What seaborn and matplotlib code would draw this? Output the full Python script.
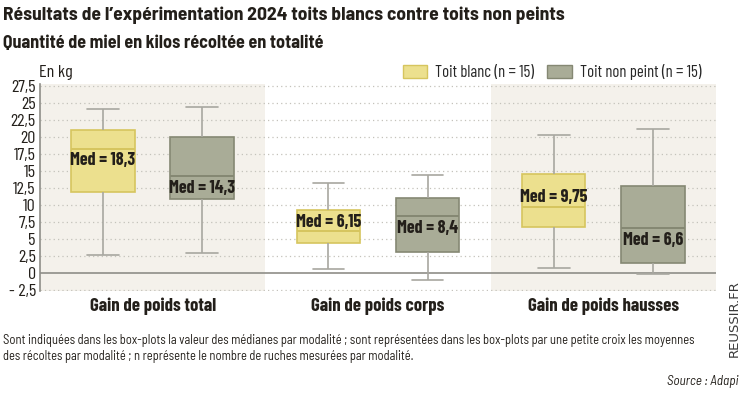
import numpy as np
import pandas as pd
import seaborn as sns
import matplotlib.pyplot as plt
from matplotlib.patches import Patch

# box stats: lower whisker, Q1, median, Q3, upper whisker
groups = ["Gain de poids total", "Gain de poids corps", "Gain de poids hausses"]
series = ["Toit blanc (n = 15)", "Toit non peint (n = 15)"]

blanc_total = [2.65, 11.85, 18.3, 21.1, 24.1]
blanc_corps = [0.55, 4.35, 6.15, 9.3, 13.2]
blanc_hausses = [0.8, 6.7, 9.75, 14.5, 20.3]

nonpeint_total = [3.0, 10.9, 14.3, 20.0, 24.5]
nonpeint_corps = [-1.0, 3.1, 8.4, 11.1, 14.4]
nonpeint_hausses = [-0.1, 1.4, 6.6, 12.8, 21.2]

med_labels_blanc = ["18,3", "6,15", "9,75"]
med_labels_nonpeint = ["14,3", "8,4", "6,6"]
# label sits above (+1) or below (-1) the median line
label_side_blanc = [-1, 1, 1]
label_side_nonpeint = [-1, -1, -1]

yticks = np.arange(-2.5, 27.6, 2.5)

yellow, yellow_edge = "#ece08e", "#d6c55e"
grey, grey_edge = "#a9ac97", "#858873"
whisk = "#a8a7a0"
ink = "#231f1a"

rows = []
for g, b, n in zip(groups, [blanc_total, blanc_corps, blanc_hausses],
                   [nonpeint_total, nonpeint_corps, nonpeint_hausses]):
    for v in b:
        rows.append({"groupe": g, "toit": series[0], "kg": v})
    for v in n:
        rows.append({"groupe": g, "toit": series[1], "kg": v})
df = pd.DataFrame(rows)

sns.set_style("white")
plt.rcParams["font.family"] = ["Barlow Condensed", "DejaVu Sans"]

fig = plt.figure(figsize=(7.47, 3.93), dpi=100)
ax = fig.add_axes([0.0535, 0.2595, 0.905, 0.5265])

# shaded backgrounds for first and last group
ax.axvspan(-0.5, 0.5, color="#f4f1eb", zorder=0, lw=0)
ax.axvspan(1.5, 2.5, color="#f4f1eb", zorder=0, lw=0)
for t in yticks:
    if t != 0:
        ax.axhline(t, color="#c4c2bb", lw=0.9, ls=(0, (1, 2.5)), zorder=0.5)
ax.axhline(0, color="#8f8e88", lw=1.2, zorder=0.6)

sns.boxplot(data=df, x="groupe", y="kg", hue="toit", order=groups, hue_order=series,
            palette=[yellow, grey], saturation=1, whis=np.inf, width=0.88, gap=0.36,
            linewidth=1.2, linecolor=whisk, ax=ax, legend=False,
            medianprops={"lw": 1.4}, capprops={"lw": 1.2}, zorder=2)

# recolour box edges and medians per series
for cont, edge in zip(ax.containers, [yellow_edge, grey_edge]):
    for b in cont.boxes:
        b.set_edgecolor(edge)
    for m in cont.medians:
        m.set_color(edge)

offset = 0.22
stats_b = [blanc_total, blanc_corps, blanc_hausses]
stats_n = [nonpeint_total, nonpeint_corps, nonpeint_hausses]
for i in range(3):
    for xs, med, lab, side in [
        (i - offset, stats_b[i][2], med_labels_blanc[i], label_side_blanc[i]),
        (i + offset, stats_n[i][2], med_labels_nonpeint[i], label_side_nonpeint[i]),
    ]:
        ax.text(xs, med + (1.3 if side > 0 else -1.8), f"Med = {lab}",
                ha="center", va="center", fontsize=13, fontweight="bold",
                color=ink, zorder=5)

ax.set_xlim(-0.5, 2.5)
ax.set_ylim(-2.65, 27.8)
ax.set_yticks(yticks)
ax.set_yticklabels([("- " + f"{abs(t):g}" if t < 0 else f"{t:g}").replace(".", ",") for t in yticks],
                   fontsize=13, color=ink)
ax.tick_params(axis="y", length=0, pad=3)
ax.tick_params(axis="x", length=0, pad=5)
ax.set_xticks(range(3))
ax.set_xticklabels(groups, fontsize=13.5, fontweight="bold", color=ink)
ax.set_xlabel("")
ax.set_ylabel("")
for s in ["top", "right", "bottom"]:
    ax.spines[s].set_visible(False)
ax.spines["left"].set_color("#8f8e88")
ax.spines["left"].set_linewidth(1.2)

# legend
handles = [Patch(facecolor=yellow, edgecolor=yellow_edge), Patch(facecolor=grey, edgecolor=grey_edge)]
fig.legend(handles, series, loc="center right", bbox_to_anchor=(0.939, 0.816), ncol=2,
           frameon=False, fontsize=12, handlelength=1.45, handleheight=0.85,
           columnspacing=0.8, handletextpad=0.5, borderpad=0, borderaxespad=0)

fig.text(0.052, 0.816, "En kg", fontsize=13, color=ink, va="center")
fig.text(0.004, 0.962, "Résultats de l’expérimentation 2024 toits blancs contre toits non peints",
         fontsize=14, fontweight="bold", color=ink, va="center", family="Barlow Semi Condensed")
fig.text(0.004, 0.89, "Quantité de miel en kilos récoltée en totalité",
         fontsize=13, fontweight="bold", color=ink, va="center", family="Barlow Semi Condensed")
fig.text(0.004, 0.113,
         "Sont indiquées dans les box-plots la valeur des médianes par modalité ; sont représentées dans les box-plots par une petite croix les moyennes\n"
         "des récoltes par modalité ; n représente le nombre de ruches mesurées par modalité.",
         fontsize=9, color=ink, va="center", linespacing=1.25, family="Barlow Semi Condensed")
fig.text(0.988, 0.028, "Source : Adapi", fontsize=9.5, style="italic", color=ink,
         ha="right", va="center", family="Barlow Semi Condensed")
fig.text(0.983, 0.19, "REUSSIR.FR", fontsize=9.5, rotation=90, color="#3a3a3a",
         ha="center", va="center", family="DejaVu Sans")

fig.savefig("out.png", dpi=100, facecolor="white")
